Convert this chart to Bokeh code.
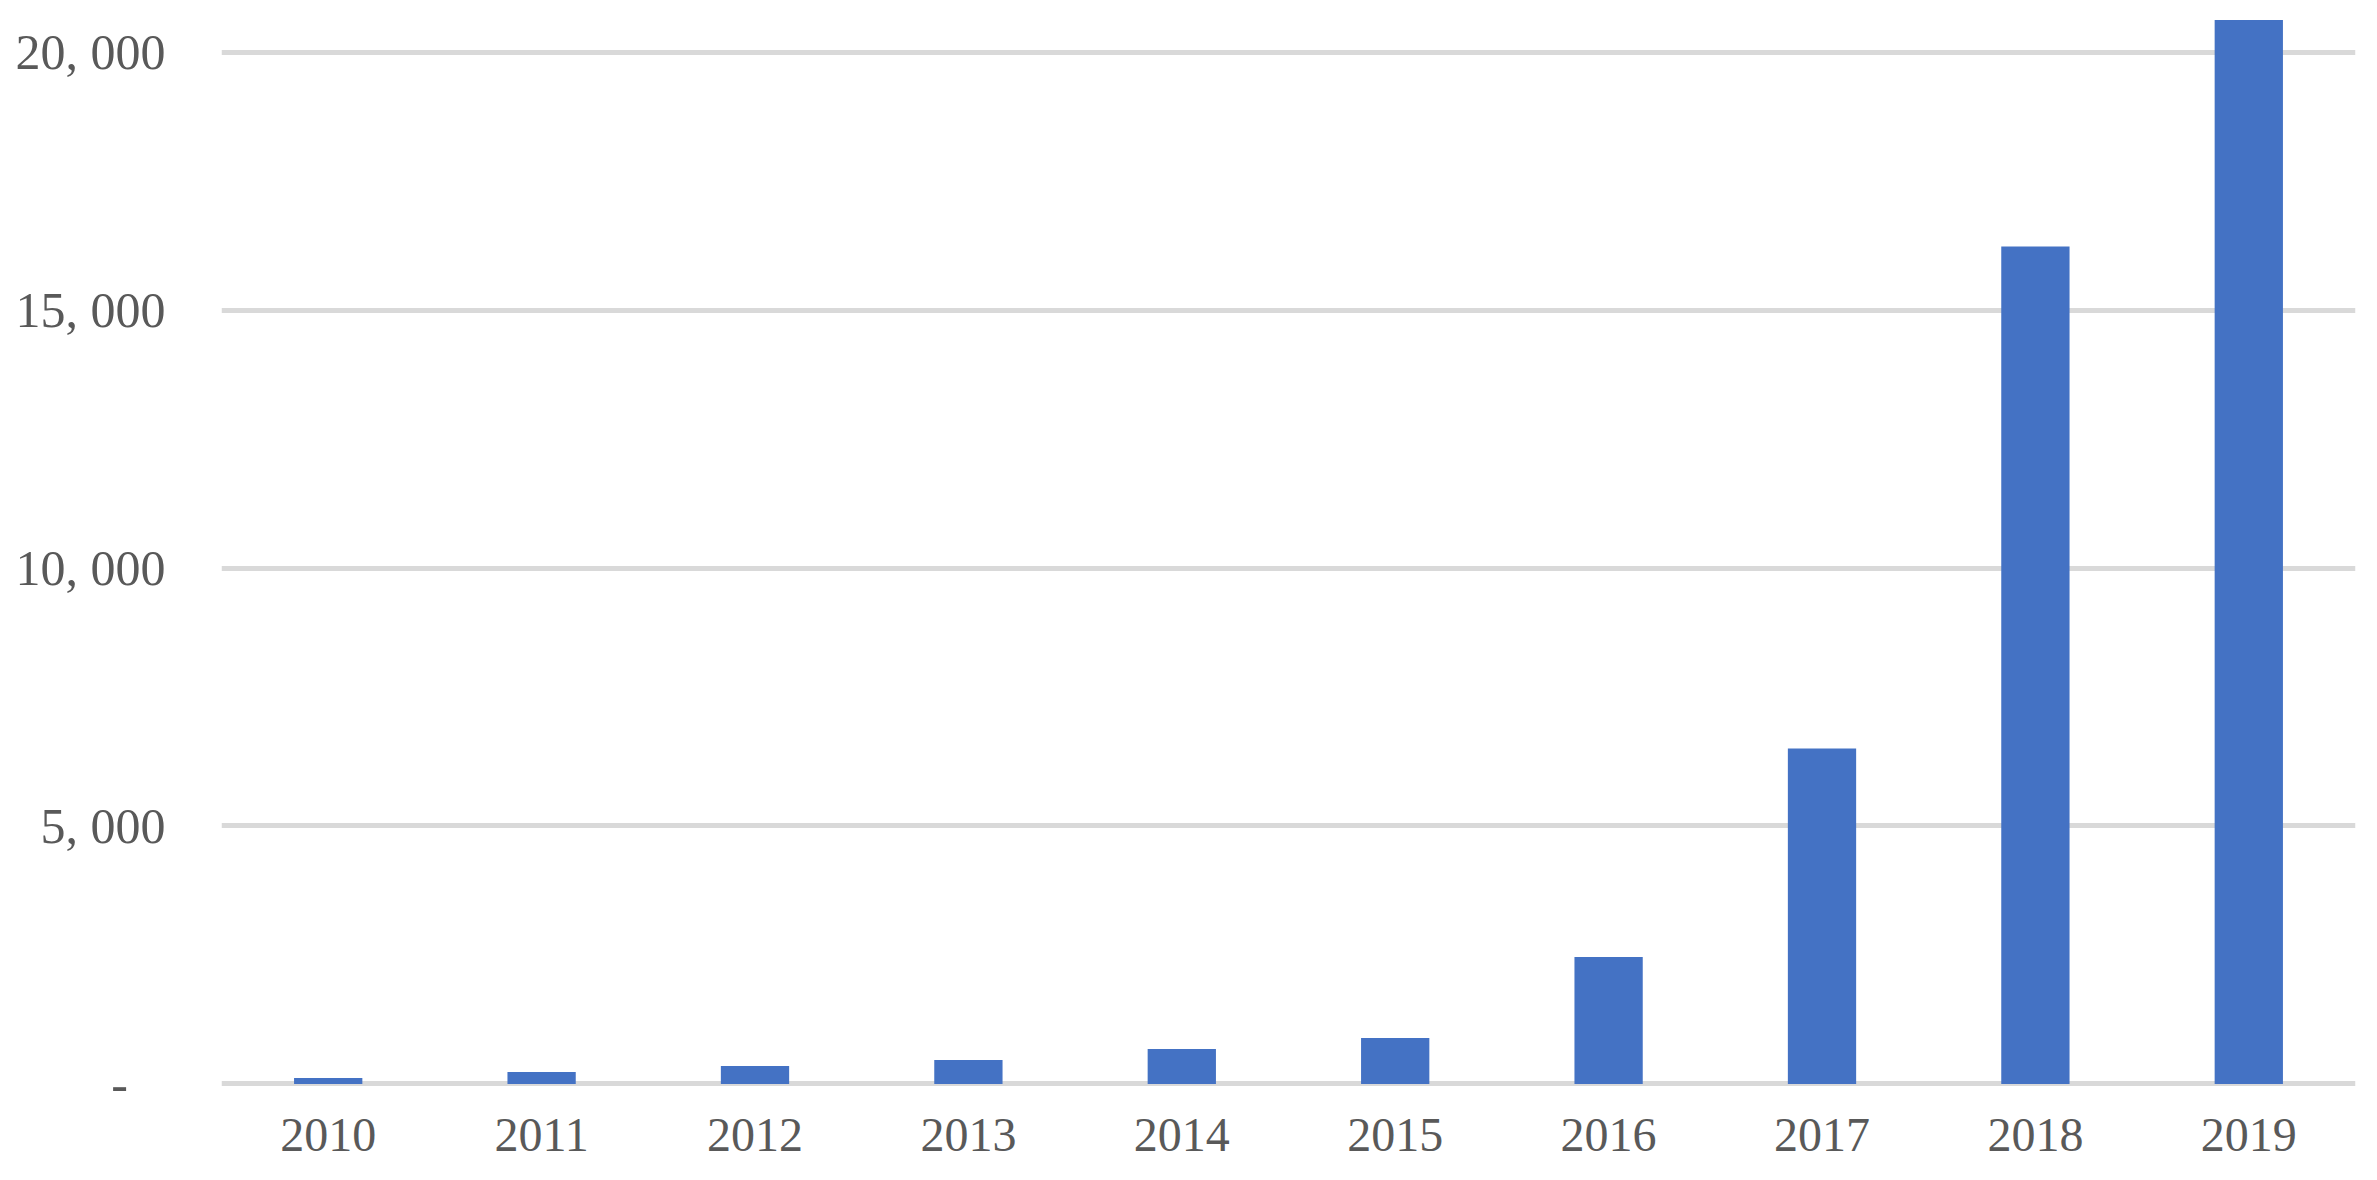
from bokeh.plotting import figure
from bokeh.models import FixedTicker, Range1d, FactorRange
from bokeh.embed import file_html
from bokeh.resources import INLINE

years = ["2010", "2011", "2012", "2013", "2014", "2015", "2016", "2017", "2018", "2019"]
values = [117, 233, 350, 466, 680, 892, 2460, 6500, 16230, 20620]
y_ticks = [0, 5000, 10000, 15000, 20000]
y_tick_labels = ["-\u00a0\u00a0\u00a0", "5, 000", "10, 000", "15, 000", "20, 000"]

FONT = "Liberation Serif"
TEXT = "#595959"

p = figure(
    width=2369, height=1172,
    x_range=FactorRange(factors=years, range_padding=0),
    y_range=Range1d(-165, 20766),
    output_backend="svg", toolbar_location=None, tools="",
    min_border_left=221, min_border_right=14, min_border_top=12, min_border_bottom=80,
)
p.vbar(x=years, top=values, width=0.32, color="#4472c4", line_color=None)

p.outline_line_color = None
p.background_fill_color = "white"
p.border_fill_color = "white"

p.xgrid.grid_line_color = None
p.ygrid.grid_line_color = "#d9d9d9"
p.ygrid.grid_line_width = 5
p.yaxis.ticker = FixedTicker(ticks=y_ticks)
p.yaxis.major_label_overrides = {t: l for t, l in zip(y_ticks, y_tick_labels)}

for ax in (p.xaxis, p.yaxis):
    ax.axis_line_color = None
    ax.major_tick_line_color = None
    ax.minor_tick_line_color = None
    ax.major_tick_out = 0
    ax.major_tick_in = 0
    ax.major_label_text_font = FONT
    ax.major_label_text_color = TEXT

p.xaxis.major_label_text_font_size = "48px"
p.yaxis.major_label_text_font_size = "50px"
p.xaxis.major_label_standoff = 26
p.yaxis.major_label_standoff = 56

open("out.html", "w").write(file_html(p, INLINE))
